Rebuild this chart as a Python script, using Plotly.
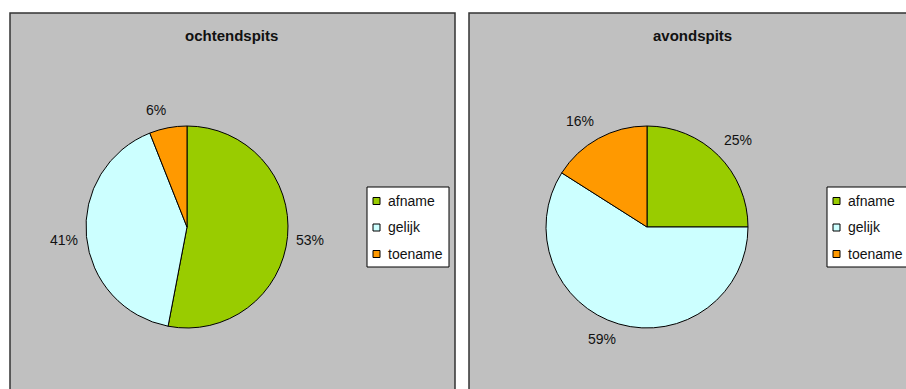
import math
import plotly.graph_objects as go

# Data
categories = ["afname", "gelijk", "toename"]
ochtendspits = [53, 41, 6]
avondspits = [25, 59, 16]
titles = ["ochtendspits", "avondspits"]
colors = ["#99CC00", "#CCFFFF", "#FF9900"]

W, H = 906, 389
FONT = "Liberation Sans, Arial, sans-serif"

# panel geometry in pixels (left, top, right, bottom)
panels = [(10, 13, 455, 400), (469, 13, 915, 400)]
title_x = [232, 692]
pie_centers = [(187, 227), (647, 227)]
pie_r = 101
legend_boxes = [(367, 187, 449, 267), (827, 187, 909, 267)]


def px(x):
    return x / W


def py(y):
    return 1 - y / H


def clamp(v):
    return max(-1.0, min(1.0, v))


fig = go.Figure()
shapes = []
annotations = []

for i, vals in enumerate([ochtendspits, avondspits]):
    L, T, R, B = panels[i]
    shapes.append(dict(type="rect", xref="paper", yref="paper",
                       x0=px(L), x1=px(R), y0=py(B), y1=py(T),
                       fillcolor="#C0C0C0", line=dict(color="#333333", width=1.5),
                       layer="below"))
    annotations.append(dict(text="<b>%s</b>" % titles[i], x=px(title_x[i]),
                            y=py(35), xref="paper", yref="paper", showarrow=False,
                            xanchor="center", yanchor="middle",
                            font=dict(family=FONT, size=15, color="#111111")))

    cx, cy = pie_centers[i]
    fig.add_trace(go.Pie(
        labels=categories, values=vals, sort=False, direction="clockwise",
        rotation=0, textinfo="none", hoverinfo="label+percent",
        marker=dict(colors=colors, line=dict(color="black", width=1)),
        domain=dict(x=[px(cx - pie_r), px(cx + pie_r)],
                    y=[py(cy + pie_r), py(cy - pie_r)]),
        showlegend=False,
    ))

    # percentage labels placed just outside each slice's mid-angle
    total = sum(vals)
    start = 0.0
    for v in vals:
        frac = v / total
        mid = (start + frac / 2) * 2 * math.pi
        start += frac
        dx, dy = math.sin(mid), -math.cos(mid)
        rr = 108
        tw, th = 30, 16
        lx = cx + rr * dx + clamp(4 * dx) * tw / 2
        ly = cy + rr * dy + clamp(4 * dy) * th / 2 + (-3 if dy < 0 else 0)
        annotations.append(dict(text="%d%%" % round(frac * 100), x=px(lx), y=py(ly),
                                xref="paper", yref="paper", showarrow=False,
                                xanchor="center", yanchor="middle",
                                font=dict(family=FONT, size=14, color="#111111")))

    # legend box
    lx0, ly0, lx1, ly1 = legend_boxes[i]
    shapes.append(dict(type="rect", xref="paper", yref="paper",
                       x0=px(lx0), x1=px(lx1), y0=py(ly1), y1=py(ly0),
                       fillcolor="white", line=dict(color="black", width=1)))
    for k, cat in enumerate(categories):
        yc = ly0 + 14 + k * 26.5
        shapes.append(dict(type="rect", xref="paper", yref="paper",
                           x0=px(lx0 + 6), x1=px(lx0 + 13), y0=py(yc + 3.5), y1=py(yc - 3.5),
                           fillcolor=colors[k], line=dict(color="black", width=1)))
        annotations.append(dict(text=cat, x=px(lx0 + 19), y=py(yc), xref="paper", yref="paper",
                                showarrow=False, xanchor="left", yanchor="middle",
                                font=dict(family=FONT, size=14, color="#111111")))

fig.update_layout(
    width=W, height=H, margin=dict(l=0, r=0, t=0, b=0),
    paper_bgcolor="white", plot_bgcolor="white",
    shapes=shapes, annotations=annotations, showlegend=False,
)

fig.write_html("out.html")
